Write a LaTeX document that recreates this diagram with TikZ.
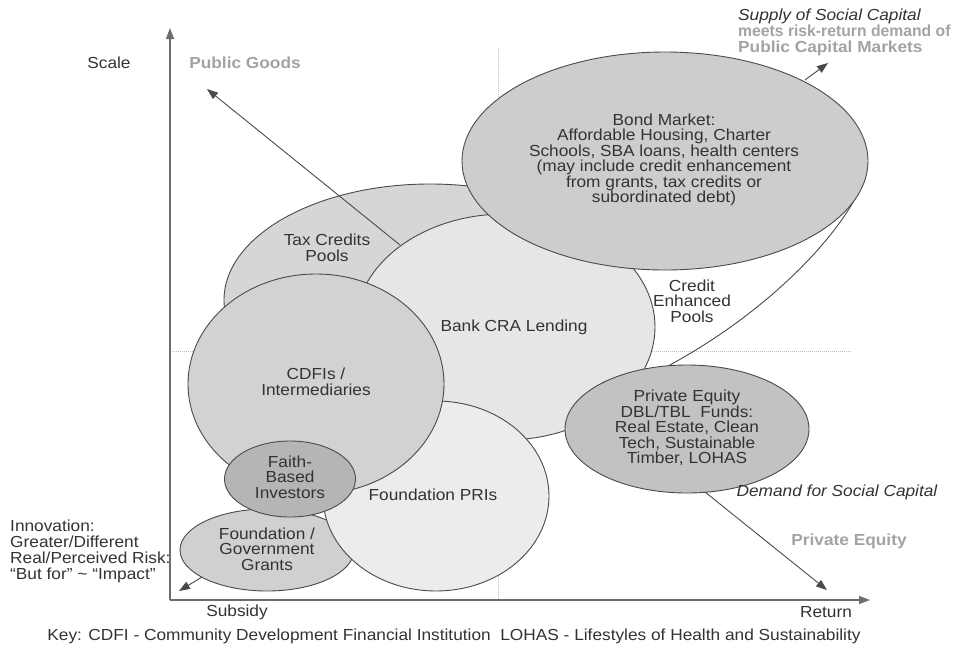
\documentclass[tikz,border=0pt]{standalone}
\usepackage{fontspec}
\setmainfont{Liberation Sans}[FakeStretch=1.08]
\usetikzlibrary{shapes.geometric,arrows.meta}
\definecolor{ink}{HTML}{333333}
\definecolor{edge}{HTML}{4a4a4a}
\definecolor{axis}{HTML}{6e6e6e}
\definecolor{grid}{HTML}{bdbdbd}
\definecolor{soft}{HTML}{a3a3a3}
\definecolor{cTax}{HTML}{d6d6d6}
\definecolor{cBank}{HTML}{e6e6e6}
\definecolor{cBond}{HTML}{cdcdcd}
\definecolor{cGrant}{HTML}{d0d0d0}
\definecolor{cPri}{HTML}{ececec}
\definecolor{cCdfi}{HTML}{d2d2d2}
\definecolor{cFaith}{HTML}{b5b5b5}
\definecolor{cPe}{HTML}{c2c2c2}
\begin{document}
\begin{tikzpicture}[x=1pt,y=-1pt,
  font=\fontsize{16}{15.5}\selectfont, text=ink,
  blob/.style={ellipse, draw=edge, line width=0.9pt, inner sep=0pt},
  lbl/.style={align=center, inner sep=0pt},
  gridline/.style={draw=grid, line width=0.7pt, dash pattern=on 1pt off 1pt},
  axisline/.style={draw=axis, line width=1.2pt, -{Triangle[length=11pt,width=8pt]}},
  arr/.style={draw=edge, line width=0.9pt, -{Triangle[length=11pt,width=8pt]}},
  softbold/.style={font=\fontsize{16}{15.5}\selectfont\bfseries, text=soft, inner sep=0pt}]
\useasboundingbox (0,0) rectangle (972,649);
\fill[white] (0,0) rectangle (972,649);

% grid lines
\coordinate (gv1) at (498,48);
\coordinate (gv2) at (498,600);
\coordinate (gh1) at (170,351);
\coordinate (gh2) at (852,351);
\draw[gridline] (gv1) -- (gv2);
\draw[gridline] (gh1) -- (gh2);

% credit enhanced pools outline
\coordinate (ce1) at (867,164);
\coordinate (ce2) at (668,366);
\coordinate (ce3) at (680,400);
\draw[edge, line width=0.9pt] (ce1) .. controls (865,205) and (790,300) .. (ce2) -- (ce3);

% ellipses
\node[blob, fill=cTax, minimum width=412pt, minimum height=232pt] (tax) at (430,300) {};
\coordinate (pgstart) at (400,245);
\coordinate (pgtip) at (207,89);
\draw[arr] (pgstart) -- (pgtip);
\node[blob, fill=cBank, minimum width=300pt, minimum height=226pt] (bank) at (505,327) {};
\node[blob, fill=cBond, minimum width=406pt, minimum height=218pt] (bond) at (665,161) {};
\node[blob, fill=cGrant, minimum width=174pt, minimum height=82pt] (grants) at (267,550) {};
\node[blob, fill=cPri, minimum width=226pt, minimum height=190pt] (pri) at (436,496) {};
\node[blob, fill=cCdfi, minimum width=256pt, minimum height=220pt] (cdfi) at (316,384) {};
\node[blob, fill=cFaith, minimum width=131pt, minimum height=76pt] (faith) at (290,479) {};
\node[blob, fill=cPe, minimum width=244pt, minimum height=128pt] (pe) at (687,429) {};

% labels in ellipses
\node[lbl] (tBond) at (664,160) {Bond Market:\\Affordable Housing, Charter\\Schools, SBA loans, health centers\\(may include credit enhancement\\from grants, tax credits or\\subordinated debt)};
\node[lbl] (tTax) at (327,248) {Tax Credits\\Pools};
\node[lbl] (tBank) at (514,327) {Bank CRA Lending};
\node[lbl] (tCredit) at (692,301) {Credit\\Enhanced\\Pools};
\node[lbl] (tCdfi) at (316,382) {CDFIs /\\Intermediaries};
\node[lbl] (tFaith) at (290,477) {Faith-\\Based\\Investors};
\node[lbl] (tPri) at (433,495) {Foundation PRIs};
\node[lbl] (tGrant) at (267,549) {Foundation /\\Government\\Grants};
\node[lbl] (tPe) at (687,428) {Private Equity\\DBL/TBL\ \ Funds:\\Real Estate, Clean\\Tech, Sustainable\\Timber, LOHAS};

% axes
\coordinate (origin) at (170,600);
\coordinate (xend) at (870,600);
\coordinate (yend) at (170,28);
\draw[axisline] (origin) -- (xend);
\draw[axisline] (origin) -- (yend);

% other arrows
\coordinate (supstart) at (805,80);
\coordinate (suptip) at (828,63);
\draw[arr] (supstart) -- (suptip);
\coordinate (demstart) at (705,492);
\coordinate (demtip) at (827,590);
\draw[arr] (demstart) -- (demtip);
\coordinate (innstart) at (202,577);
\coordinate (inntip) at (179,591);
\draw[arr] (innstart) -- (inntip);

% outer labels
\node[inner sep=0pt] (scale) at (109,63) {Scale};
\node[softbold] (pubgoods) at (245,63) {Public Goods};
\node[inner sep=0pt] (subsidy) at (237,612) {Subsidy};
\node[inner sep=0pt] (return) at (826,612) {Return};
\node[inner sep=0pt] (key) at (454,636) {Key: CDFI - Community Development Financial Institution\ \ LOHAS - Lifestyles of Health and Sustainability};
\node[inner sep=0pt, anchor=west, align=left, font=\fontsize{16}{16}\selectfont] (innov) at (10,551) {Innovation:\\Greater/Different\\Real/Perceived Risk:\\“But for” \textasciitilde{} “Impact”};
\node[inner sep=0pt, anchor=west, align=left, font=\fontsize{16}{16}\selectfont] (supply) at (738,32) {\textit{Supply of Social Capital}\\\textcolor{soft}{\bfseries\scalebox{0.91}[1]{meets risk-return demand of}}\\\textcolor{soft}{\bfseries Public Capital Markets}};
\node[inner sep=0pt, font=\fontsize{16}{15.5}\selectfont\itshape] (demand) at (837,492) {Demand for Social Capital};
\node[softbold] (privequity) at (849,541) {Private Equity};
\end{tikzpicture}
\end{document}
